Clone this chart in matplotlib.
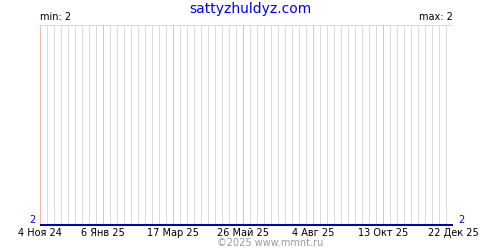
import datetime
import matplotlib
matplotlib.use("Agg")
import matplotlib.pyplot as plt

# ── Data ──────────────────────────────────────────────────────────────────────
start_date = datetime.date(2024, 11, 4)
end_date = datetime.date(2025, 12, 22)
dates = [start_date, end_date]
values = [2, 2]

tick_dates = [
    datetime.date(2024, 11, 4),
    datetime.date(2025, 1, 6),
    datetime.date(2025, 3, 17),
    datetime.date(2025, 5, 26),
    datetime.date(2025, 8, 4),
    datetime.date(2025, 10, 13),
    datetime.date(2025, 12, 22),
]
tick_labels = ["4 Ноя 24", "6 Янв 25", "17 Мар 25", "26 Май 25",
               "4 Авг 25", "13 Окт 25", "22 Дек 25"]

title = "sattyzhuldyz.com"
min_label = "min: 2"
max_label = "max: 2"
credit = "©2025 www.mmnt.ru"

# ── Plot ──────────────────────────────────────────────────────────────────────
fig = plt.figure(figsize=(5, 2.5), dpi=100)
ax = fig.add_axes([0.08, 0.10, 0.826, 0.80])

PX = 72 / 100  # one pixel in points

# weekly grey grid lines, red ones at the labelled dates
week = datetime.timedelta(days=7)
d = start_date
while d <= end_date:
    if d not in tick_dates:
        ax.axvline(d, color="#dcdcdc", lw=PX, zorder=1, antialiased=False)
    d += week
for t in tick_dates:
    ax.axvline(t, color="#ffb4b4", lw=PX, zorder=2, antialiased=False)

ax.axhline(3, color="#dcdcdc", lw=PX, zorder=1, antialiased=False)
ax.plot(dates, values, color="#0000cc", lw=2 * PX, zorder=3,
        solid_capstyle="butt", clip_on=False)

ax.set_xlim(start_date, end_date)
ax.set_ylim(2, 3)
for s in ax.spines.values():
    s.set_visible(False)

ax.set_xticks(tick_dates)
ax.set_xticklabels(tick_labels, fontsize=7)
ax.tick_params(axis="x", length=0, pad=2)
ax.set_yticks([])

fig.text(0.5, 0.965, title, color="#0000ff", fontsize=10, ha="center", va="center")
ax.text(0.0, 1.015, min_label, transform=ax.transAxes, fontsize=7,
        ha="left", va="bottom")
ax.text(1.0, 1.015, max_label, transform=ax.transAxes, fontsize=7,
        ha="right", va="bottom")
ax.text(-0.012, 0.0, str(values[0]), transform=ax.transAxes, fontsize=7,
        color="#0000cc", ha="right", va="bottom")
ax.text(1.012, 0.0, str(values[-1]), transform=ax.transAxes, fontsize=7,
        color="#0000cc", ha="left", va="bottom")
fig.text(0.54, 0.03, credit, color="#999999", fontsize=7, ha="center", va="center")

fig.savefig("out.png", dpi=100)
